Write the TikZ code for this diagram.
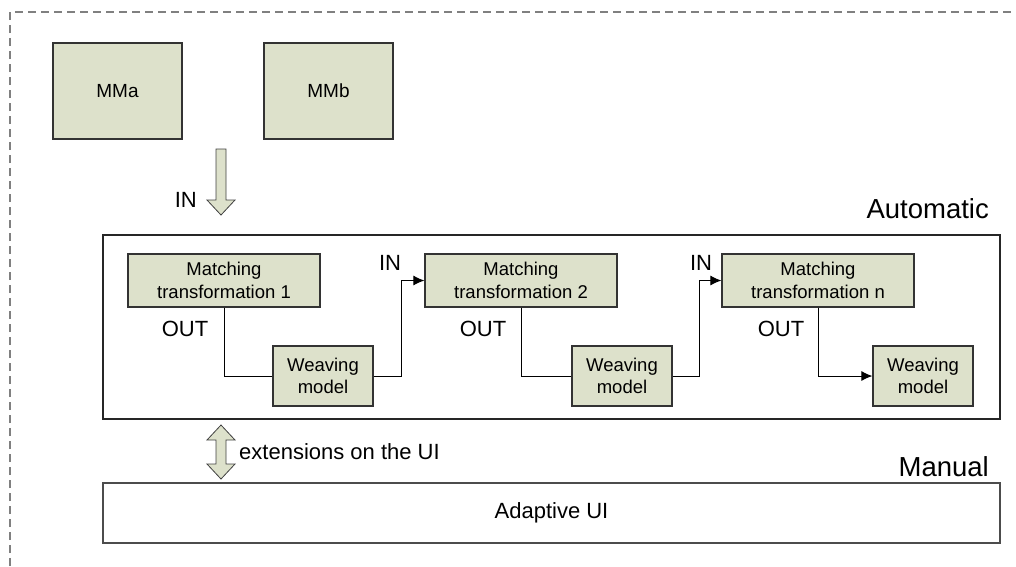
\documentclass[tikz,border=0pt]{standalone}
\usepackage{fontspec}
\setmainfont{Liberation Sans}
\usetikzlibrary{arrows.meta}
\definecolor{boxfill}{HTML}{DDE1CB}
\colorlet{edge}{black!80}
\tikzset{
  mbox/.style={draw=edge,fill=boxfill,line width=1.2pt,align=center,inner sep=0pt,
    font=\fontsize{18.5}{22.5}\selectfont},
  frame/.style={draw=black!85,line width=1.2pt,inner sep=0pt},
  lbl/.style={inner sep=0pt,font=\fontsize{22}{24}\selectfont},
  big/.style={inner sep=0pt,font=\fontsize{27.5}{30}\selectfont},
  link/.style={draw=black,line width=1pt},
  tip/.style={-{Latex[length=11pt,width=10pt]}},
  blockarrow/.style={draw=black!75,fill=boxfill,line width=.8pt,line join=miter}
}
\newcommand{\mtbox}[3]{% name, x, text
  \node[mbox,minimum width=192pt,minimum height=53pt] (#1) at (#2,280.5) {Matching\\transformation #3};
}
\newcommand{\wvbox}[2]{% name, x
  \node[mbox,minimum width=100pt,minimum height=60pt] (#1) at (#2,376) {Weaving\\model};
}

\begin{document}
\begin{tikzpicture}[x=1pt,y=-1pt]
  \useasboundingbox (0,0) rectangle (1016,566);
  % outer dashed frame
  \draw[black!50,line width=2pt,dash pattern=on 8pt off 5pt] (10,566) -- (10,12) -- (1016,12);

  \node[mbox,minimum width=129pt,minimum height=96pt,font=\fontsize{19}{22}\selectfont] (mma) at (117.5,91) {MMa};
  \node[mbox,minimum width=129pt,minimum height=96pt,font=\fontsize{19}{22}\selectfont] (mmb) at (328.5,91) {MMb};

  \draw[blockarrow] (216,149) -- (226,149) -- (226,200) -- (235,200) -- (221,215)
    -- (207,200) -- (216,200) -- cycle;
  \node[lbl,anchor=east] (in0) at (197,200) {IN};

  \node[big,anchor=east] (autolbl) at (989,209) {Automatic};
  \node[frame,minimum width=897pt,minimum height=184pt] (auto) at (551.5,327) {};

  \mtbox{mt1}{224}{1}
  \mtbox{mt2}{521}{2}
  \mtbox{mtn}{818}{n}
  \wvbox{wv1}{323}
  \wvbox{wv2}{622}
  \wvbox{wvn}{923}

  \node[lbl] (out1) at (185,329) {OUT};
  \node[lbl] (out2) at (483,329) {OUT};
  \node[lbl] (outn) at (781,329) {OUT};
  \node[lbl] (in2) at (390,263) {IN};
  \node[lbl] (inn) at (701,263) {IN};

  \draw[link] (mt1.south) |- (wv1.west);
  \draw[link,tip] (wv1.east) -- ++(28,0) |- (mt2.west);
  \draw[link] (mt2.south) |- (wv2.west);
  \draw[link,tip] (wv2.east) -- ++(27,0) |- (mtn.west);
  \draw[link,tip] (mtn.south) |- (wvn.west);

  % two way arrow
  \draw[blockarrow] (221,425) -- (235,440) -- (226,440) -- (226,464) -- (235,464) -- (221,479)
    -- (207,464) -- (216,464) -- (216,440) -- (207,440) -- cycle;
  \node[inner sep=0pt,anchor=west,font=\fontsize{22}{24}\selectfont] (ext) at (239,452) {extensions on the UI};

  \node[big,anchor=east] (manlbl) at (989,467) {Manual};
  \node[frame,draw=black!70,minimum width=897pt,minimum height=60pt,font=\fontsize{22}{24}\selectfont] (ui) at (551.5,513) {Adaptive UI};
\end{tikzpicture}
\end{document}
